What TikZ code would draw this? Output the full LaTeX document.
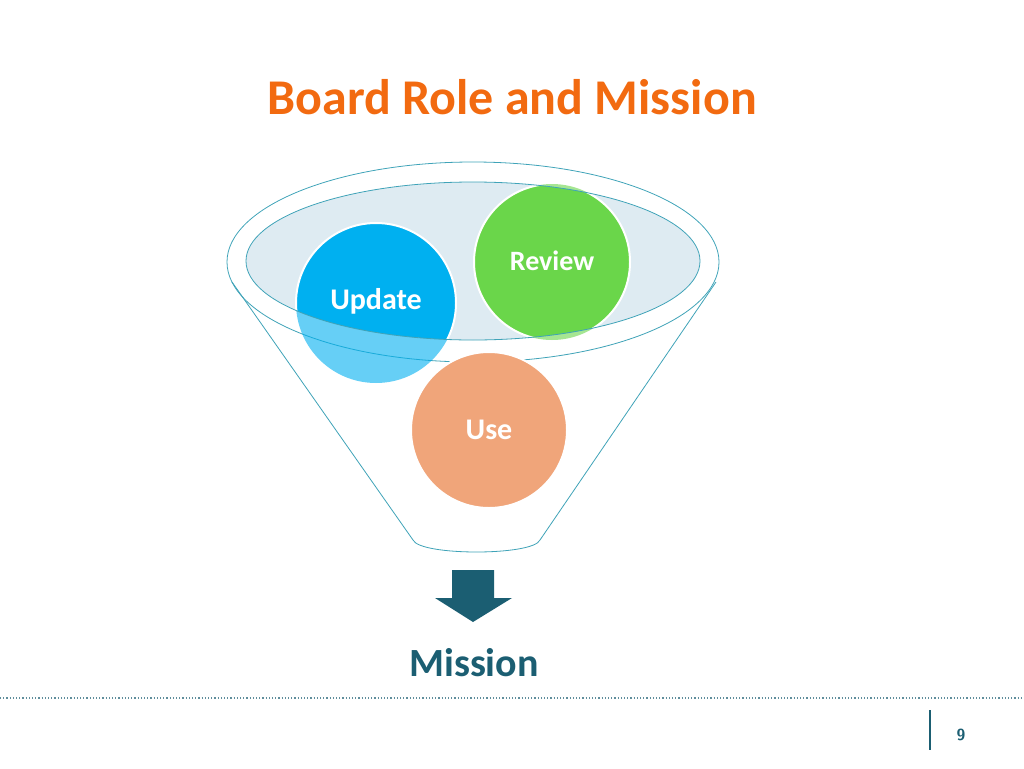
\documentclass[tikz,border=0pt]{standalone}
\usepackage{fontspec}
\setmainfont{Carlito}
\definecolor{ttl}{HTML}{F26A10}
\definecolor{teal}{HTML}{1B5E72}
\definecolor{fun}{HTML}{3FA3B8}
\definecolor{upd}{HTML}{00B0F0}
\definecolor{rev}{HTML}{6AD64A}
\definecolor{use}{HTML}{F0A57A}
\definecolor{rim}{HTML}{D6E6EF}
\begin{document}
\begin{tikzpicture}[x=1pt,y=-1pt,
 bub/.style={circle,draw=white,line width=2pt,minimum size=#1,inner sep=0pt,text=white,font=\bfseries\fontsize{28}{30}\selectfont}]
\useasboundingbox (0,0) rectangle (1024,768);
\node (title) at (512,97) {\textcolor{ttl}{\bfseries\fontsize{50}{54}\selectfont Board Role and Mission}};
% funnel
\draw[fun,line width=0.8pt,fill=white] (232,282) -- (413,540) .. controls (420,556) and (533,556) .. (540,540) -- (716,282);
\draw[fun,line width=0.8pt] (473,262) ellipse [x radius=246,y radius=100];
% circles light
\begin{scope}[opacity=0.6]
\fill[upd] (376,303) circle (80);
\fill[rev] (552,262) circle (78);
\end{scope}
\node[bub=156pt,fill=use] (use) at (489,430) {};
\node (uset) at (489,430) {\textcolor{white}{\bfseries\fontsize{30}{32}\selectfont Use}};
\fill[rim,opacity=0.8] (473,261) ellipse [x radius=227,y radius=79];
\begin{scope}
\clip (473,261) ellipse [x radius=227,y radius=79];
\fill[upd] (376,303) circle (80);
\fill[rev] (552,262) circle (78);
\draw[white,line width=2pt] (376,303) circle (80) (552,262) circle (78);
\end{scope}
\draw[fun,line width=0.8pt] (473,261) ellipse [x radius=227,y radius=79];
\node (upd) at (376,301) {\textcolor{white}{\bfseries\fontsize{30}{32}\selectfont Update}};
\node (rev) at (552,261) {\textcolor{white}{\bfseries\fontsize{28}{30}\selectfont Review}};
% arrow
\fill[teal] (452,570) -- (494,570) -- (494,598) -- (512,598) -- (473,622) -- (435,598) -- (452,598) -- cycle;
\node (mis) at (474,663) {\textcolor{teal}{\bfseries\fontsize{40}{44}\selectfont Mission}};
\draw[teal!70,line width=1.2pt,dotted] (0,698) -- (1024,698);
\draw[teal,line width=1.5pt] (930,710) -- (930,750);
\node (pg) at (961,735) {\textcolor{teal}{\bfseries\fontsize{16}{18}\selectfont\sffamily 9}};
\end{tikzpicture}
\end{document}
